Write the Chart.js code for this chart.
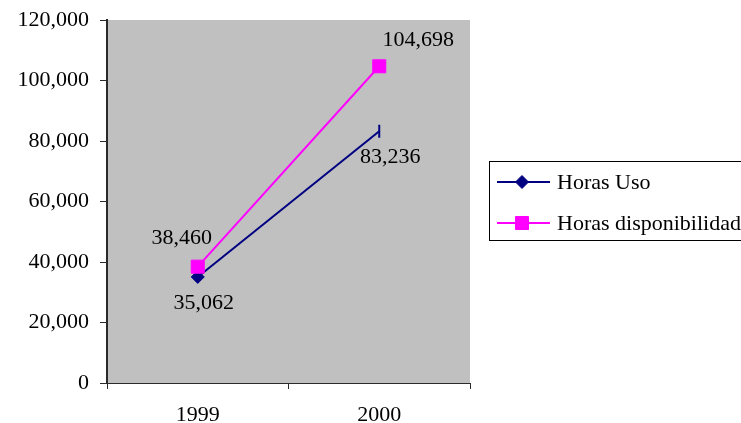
<!DOCTYPE html>
<html>
<head>
<meta charset="utf-8">
<script src="https://cdn.jsdelivr.net/npm/chart.js@4"></script>
<style>
  html, body { margin: 0; padding: 0; background: #ffffff; }
  #wrap { width: 741px; height: 423px; position: relative; }
</style>
</head>
<body>
<div id="wrap"><canvas id="chart"></canvas></div>
<script>
// Annual hours: usage vs. availability
const years = ['1999', '2000'];
const horasUso = [35062, 83236];
const horasDisponibilidad = [38460, 104698];
const seriesNames = ['Horas Uso', 'Horas disponibilidad'];
const yTicks = [0, 20000, 40000, 60000, 80000, 100000, 120000];

const FONT = '"Liberation Serif", "Times New Roman", serif';
const FONT_SIZE = 22;
const AXIS = '#2a2a2a';
const fmt = v => v.toLocaleString('en-US');

// gray plot background
const plotBg = {
  id: 'plotBg',
  beforeDraw(chart) {
    const { ctx, chartArea: a } = chart;
    ctx.save();
    ctx.fillStyle = '#c0c0c0';
    ctx.fillRect(a.left, a.top, a.right - a.left, a.bottom - a.top);
    ctx.restore();
  }
};

// value labels next to each point
const valueLabels = {
  id: 'valueLabels',
  afterDatasetsDraw(chart) {
    const { ctx } = chart;
    ctx.save();
    ctx.font = FONT_SIZE + 'px ' + FONT;
    ctx.fillStyle = '#000';
    ctx.textAlign = 'center';
    ctx.textBaseline = 'middle';
    chart.data.datasets.forEach((ds, i) => {
      const meta = chart.getDatasetMeta(i);
      meta.data.forEach((pt, j) => {
        const off = ds.labelOffsets[j];
        ctx.fillText(fmt(ds.data[j]), pt.x + off[0], pt.y + off[1]);
      });
    });
    ctx.restore();
  }
};

// boxed legend on the right
const boxLegend = {
  id: 'boxLegend',
  afterDraw(chart) {
    const { ctx } = chart;
    const box = { x: 489.5, y: 161.5, w: 270, h: 79 };
    ctx.save();
    ctx.strokeStyle = '#000';
    ctx.lineWidth = 1;
    ctx.strokeRect(box.x, box.y, box.w, box.h);
    const rows = [182, 223];
    chart.data.datasets.forEach((ds, i) => {
      const y = rows[i];
      ctx.strokeStyle = ds.borderColor;
      ctx.lineWidth = 2;
      ctx.beginPath();
      ctx.moveTo(497, y);
      ctx.lineTo(550, y);
      ctx.stroke();
      ctx.fillStyle = ds.backgroundColor;
      ctx.strokeStyle = ds.borderColor;
      ctx.lineWidth = 1;
      Chart.helpers.drawPoint(ctx, {
        pointStyle: ds.legendStyle,
        radius: ds.legendRadius,
        rotation: 0,
        borderWidth: 1
      }, 522, y);
      ctx.fillStyle = '#000';
      ctx.font = FONT_SIZE + 'px ' + FONT;
      ctx.textAlign = 'left';
      ctx.textBaseline = 'middle';
      ctx.fillText(ds.label, 557, y + 1);
    });
    ctx.restore();
  }
};

new Chart(document.getElementById('chart'), {
  type: 'line',
  data: {
    labels: years,
    datasets: [
      {
        label: seriesNames[0],
        data: horasUso,
        borderColor: '#000080',
        backgroundColor: '#000080',
        borderWidth: 2,
        pointStyle: ['rectRot', 'line'],
        pointRotation: [0, 90],
        pointRadius: 6.5,
        pointBorderWidth: [1, 2],
        legendStyle: 'rectRot',
        legendRadius: 6.5,
        labelOffsets: [[6, 26], [11, 26]],
        order: 1,
        tension: 0
      },
      {
        label: seriesNames[1],
        data: horasDisponibilidad,
        borderColor: '#ff00ff',
        backgroundColor: '#ff00ff',
        borderWidth: 2,
        pointStyle: 'rect',
        pointRadius: 9.2,
        pointBorderWidth: 1,
        legendStyle: 'rect',
        legendRadius: 9.2,
        labelOffsets: [[-16, -28], [39, -26]],
        order: 0,
        tension: 0
      }
    ]
  },
  options: {
    responsive: true,
    maintainAspectRatio: false,
    animation: false,
    events: [],
    layout: { padding: { top: 20, right: 271, left: 0, bottom: 0 } },
    plugins: {
      legend: { display: false },
      tooltip: { enabled: false }
    },
    scales: {
      x: {
        offset: true,
        grid: {
          offset: true,
          drawOnChartArea: false,
          drawTicks: true,
          tickLength: 6,
          color: AXIS,
          lineWidth: 1
        },
        border: { display: true, color: AXIS, width: 1 },
        ticks: {
          color: '#000',
          font: { family: FONT, size: FONT_SIZE },
          padding: 13,
          maxRotation: 0
        },
        afterFit(scale) {
          scale.height = 40;
          scale.paddingLeft = 0;
          scale.paddingRight = 0;
        }
      },
      y: {
        min: yTicks[0],
        max: yTicks[yTicks.length - 1],
        afterBuildTicks(scale) { scale.ticks = yTicks.map(v => ({ value: v })); },
        grid: {
          drawOnChartArea: false,
          drawTicks: true,
          tickLength: 7,
          color: AXIS,
          lineWidth: 1
        },
        border: { display: true, color: AXIS, width: 2 },
        ticks: {
          color: '#000',
          font: { family: FONT, size: FONT_SIZE },
          padding: 11,
          callback: v => fmt(v)
        },
        afterFit(scale) {
          scale.width = 107;
          scale.paddingTop = 0;
          scale.paddingBottom = 0;
        }
      }
    }
  },
  plugins: [plotBg, valueLabels, boxLegend]
});
</script>
</body>
</html>
